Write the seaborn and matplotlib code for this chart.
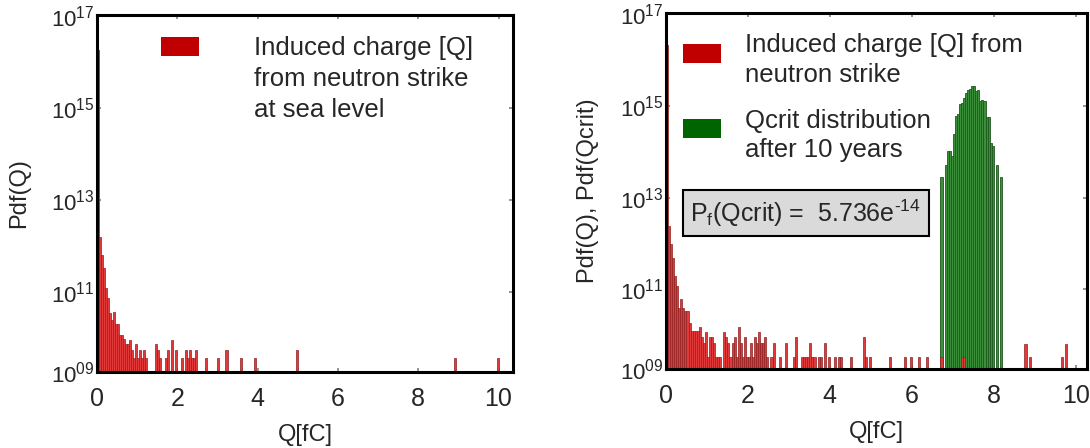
import numpy as np
import pandas as pd
import matplotlib
matplotlib.use("Agg")
import matplotlib.pyplot as plt
import seaborn as sns
from matplotlib.patches import Rectangle

sns.set_theme(style="white")
plt.rcParams["font.family"] = ["Liberation Sans", "DejaVu Sans"]
plt.rcParams["mathtext.fontset"] = "custom"
plt.rcParams["mathtext.rm"] = "Liberation Sans"
plt.rcParams["mathtext.it"] = "Liberation Sans:italic"
plt.rcParams["mathtext.bf"] = "Liberation Sans:bold"

# ---------------- data (histogram bin centres [fC] and log10 of Pdf) ----------------
BIN_WIDTH = 0.05

left_q = [0.025, 0.075, 0.125, 0.175, 0.225, 0.275, 0.325, 0.375, 0.425, 0.475,
          0.525, 0.575, 0.625, 0.675, 0.725, 0.775, 0.825, 0.875, 0.925, 0.975,
          1.025, 1.075, 1.125, 1.175, 1.225, 1.475, 1.525, 1.575, 1.725, 1.775,
          1.875, 1.975, 2.125, 2.225, 2.275, 2.325, 2.375, 2.425, 2.475, 2.725,
          3.025, 3.225, 3.575, 3.925, 4.975, 8.925, 9.975]
left_log_pdf = [16.26, 12.20, 11.80, 11.51, 11.08, 10.86, 10.54, 10.39, 10.56, 10.30,
                10.30, 10.06, 10.06, 9.97, 9.86, 9.86, 9.96, 9.74, 9.56, 9.86,
                9.56, 9.74, 9.56, 9.74, 9.56, 9.86, 9.74, 9.56, 9.56, 9.74,
                9.96, 9.74, 9.56, 9.74, 9.56, 9.74, 9.56, 9.56, 9.74, 9.56,
                9.56, 9.74, 9.56, 9.56, 9.74, 9.56, 9.56]

right_q = [0.025, 0.075, 0.125, 0.175, 0.225, 0.275, 0.325, 0.375, 0.425, 0.475,
           0.525, 0.575, 0.625, 0.675, 0.725, 0.775, 0.825, 0.875, 0.925, 0.975,
           1.025, 1.075, 1.125, 1.175, 1.225, 1.275, 1.325, 1.425, 1.475, 1.525,
           1.575, 1.625, 1.675, 1.725, 1.775, 1.825, 1.875, 1.925, 1.975, 2.025,
           2.075, 2.125, 2.175, 2.225, 2.275, 2.325, 2.375, 2.425, 2.475, 2.575,
           2.625, 2.775, 2.925, 3.125, 3.175, 3.325, 3.375, 3.425, 3.475, 3.525,
           3.575, 3.625, 3.725, 3.775, 3.875, 3.975, 4.125, 4.225, 4.275, 4.525,
           4.825, 4.875, 4.975, 5.475, 5.825, 5.975, 6.175, 6.375, 6.725, 7.225,
           7.275, 8.775, 8.875, 9.675, 9.775]
right_log_pdf = [16.34, 12.39, 11.99, 11.69, 11.29, 11.07, 10.59, 10.78, 10.59, 10.52,
                 10.52, 10.26, 10.10, 10.10, 10.10, 10.10, 10.17, 9.97, 9.82, 10.08,
                 9.52, 9.97, 9.97, 9.82, 9.52, 9.52, 9.52, 10.08, 9.97, 9.82,
                 9.52, 9.82, 9.97, 9.52, 10.19, 9.82, 9.52, 9.97, 9.52, 9.52,
                 9.82, 9.52, 9.97, 9.82, 10.08, 9.82, 9.82, 9.97, 9.52, 9.52,
                 9.82, 9.52, 9.82, 9.52, 9.97, 9.52, 9.52, 9.52, 9.52, 9.82,
                 9.52, 9.52, 9.52, 9.52, 9.82, 9.52, 9.52, 9.52, 9.52, 9.52,
                 9.97, 9.52, 9.52, 9.52, 9.52, 9.52, 9.52, 9.52, 9.52, 9.52,
                 9.52, 9.80, 9.52, 9.52, 9.80]

qcrit_q = [6.725, 6.825, 6.875, 6.925, 6.975, 7.025, 7.075, 7.125, 7.175, 7.225,
           7.275, 7.325, 7.375, 7.425, 7.475, 7.525, 7.575, 7.625, 7.675, 7.725,
           7.775, 7.825, 7.875, 7.925, 7.975, 8.075, 8.175]
qcrit_log_pdf = [13.45, 13.72, 14.01, 14.01, 13.91, 14.40, 14.79, 14.82, 15.04, 15.06,
                 15.17, 15.28, 15.34, 15.38, 15.43, 15.44, 15.33, 15.34, 15.11, 15.13,
                 15.10, 14.77, 14.77, 14.20, 14.13, 13.72, 13.45]

x_ticks = [0, 2, 4, 6, 8, 10]
y_ticks_exp = [9.26, 11, 13, 15, 17]
y_tick_labels = ["09", "11", "13", "15", "17"]

red_label_left = "Induced charge [Q]\nfrom neutron strike\nat sea level"
red_label_right = "Induced charge [Q] from\nneutron strike"
green_label = "Qcrit distribution\nafter 10 years"
pf_text = r"P$_{\mathregular{f}}$(Qcrit) =  5.736e$^{\text{-14}}$"

red_df_l = pd.DataFrame({"Q": left_q, "pdf": np.power(10.0, left_log_pdf)})
red_df_r = pd.DataFrame({"Q": right_q, "pdf": np.power(10.0, right_log_pdf)})
green_df = pd.DataFrame({"Q": qcrit_q, "pdf": np.power(10.0, qcrit_log_pdf)})

RED_FILL, RED_EDGE = "#e23a3a", "#8e1f1f"
GREEN_FILL, GREEN_EDGE = "#3b8f3b", "#1d5a1d"
LEG_RED, LEG_GREEN = "#c00000", "#006400"

fig = plt.figure(figsize=(10.9, 4.48), dpi=100)
axL = fig.add_axes([0.089, 0.170, 0.382, 0.797])
axR = fig.add_axes([0.611, 0.176, 0.386, 0.795])

xlims = {axL: 10.37, axR: 10.27}
FS_TICK = 16
FS_LAB = 17
FS_XTICK = 18
FS_LEG = 18.5

for ax in (axL, axR):
    if ax is axR:
        sns.histplot(data=green_df, x="Q", weights="pdf", binwidth=BIN_WIDTH,
                     binrange=(6.7, 8.2), color=GREEN_FILL, edgecolor=GREEN_EDGE,
                     linewidth=0.6, alpha=1.0, ax=ax)
    df = red_df_l if ax is axL else red_df_r
    sns.histplot(data=df, x="Q", weights="pdf", binwidth=BIN_WIDTH,
                 binrange=(0, 10.0), color=RED_FILL, edgecolor=RED_EDGE,
                 linewidth=0.5, alpha=1.0, ax=ax)
    ax.set_yscale("log")
    ax.set_ylim(10 ** y_ticks_exp[0], 10 ** 17.03)
    ax.set_xlim(0, xlims[ax])
    ax.minorticks_off()
    ax.set_yticks([10.0 ** e for e in y_ticks_exp])
    ax.set_yticklabels([r"$\mathregular{10^{%s}}$" % s for s in y_tick_labels])
    ax.set_xticks(x_ticks)
    ax.set_xticklabels([str(t) for t in x_ticks])
    ax.tick_params(axis="y", labelsize=FS_TICK, pad=2, direction="in", length=3,
                   color="#888888", right=True, left=True)
    ax.tick_params(axis="x", labelsize=FS_XTICK, pad=11, direction="in", length=3,
                   color="#888888", top=True, bottom=True)
    for s in ax.spines.values():
        s.set_color("black")
        s.set_linewidth(2.2)
    ax.set_xlabel("Q[fC]", fontsize=FS_LAB)
    ax.xaxis.set_label_coords(0.5, -0.145)
    ax.set_facecolor("white")

axL.set_ylabel("Pdf(Q)", fontsize=FS_LAB)
axL.yaxis.set_label_coords(-0.16, 0.5)
axR.set_ylabel("Pdf(Q), Pdf(Qcrit)", fontsize=FS_LAB)
axR.yaxis.set_label_coords(-0.16, 0.5)

# legends (handles + multi-line labels)
axL.add_patch(Rectangle((0.154, 0.885), 0.091, 0.053, transform=axL.transAxes,
                        facecolor=LEG_RED, edgecolor="none", clip_on=False))
axL.text(0.377, 0.941, red_label_left, transform=axL.transAxes, fontsize=FS_LEG,
         va="top", ha="left", linespacing=1.36)

axR.add_patch(Rectangle((0.040, 0.860), 0.091, 0.0525, transform=axR.transAxes,
                        facecolor=LEG_RED, edgecolor="none", clip_on=False))
axR.text(0.188, 0.944, red_label_right, transform=axR.transAxes, fontsize=FS_LEG,
         va="top", ha="left", linespacing=1.3)
axR.add_patch(Rectangle((0.040, 0.650), 0.091, 0.0525, transform=axR.transAxes,
                        facecolor=LEG_GREEN, edgecolor="none", clip_on=False))
axR.text(0.188, 0.731, green_label, transform=axR.transAxes, fontsize=FS_LEG,
         va="top", ha="left", linespacing=1.3)

axR.text(0.058, 0.438, pf_text, transform=axR.transAxes, fontsize=18,
         va="center", ha="left",
         bbox=dict(boxstyle="square,pad=0.3", facecolor="#dadada",
                   edgecolor="black", linewidth=1.5))

fig.savefig("out.png", dpi=100, facecolor="white")
